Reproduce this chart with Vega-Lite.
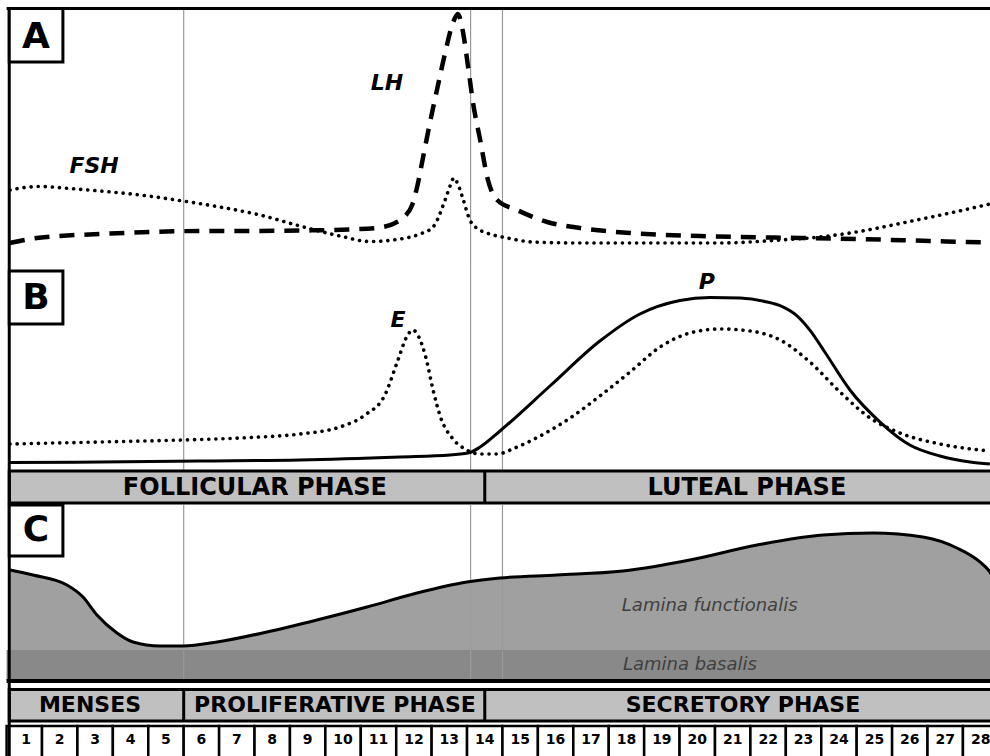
{
  "$schema": "https://vega.github.io/schema/vega-lite/v6.json",
  "padding": 0,
  "spacing": 0,
  "bounds": "flush",
  "background": "white",
  "config": {"view": {"stroke": null}, "text": {"font": "DejaVu Sans"}},
  "datasets": {
    "guides": [{"day": 5}, {"day": 13.1}, {"day": 14}],
    "one": [{"day": 0}],
    "lh": [
      {"day": 0.096, "level": 9.33}, {"day": 0.66, "level": 10.82}, {"day": 1.51, "level": 11.94}, {"day": 2.64, "level": 12.69},
      {"day": 4.05, "level": 13.43}, {"day": 5.46, "level": 13.81}, {"day": 6.87, "level": 13.81}, {"day": 8.28, "level": 13.99},
      {"day": 9.69, "level": 14.37}, {"day": 10.54, "level": 15.11}, {"day": 10.97, "level": 16.79}, {"day": 11.25, "level": 19.4},
      {"day": 11.45, "level": 23.51}, {"day": 11.59, "level": 30.22}, {"day": 11.76, "level": 41.42}, {"day": 11.95, "level": 54.1},
      {"day": 12.15, "level": 66.42}, {"day": 12.38, "level": 80.22}, {"day": 12.6, "level": 91.42}, {"day": 12.74, "level": 94.78},
      {"day": 12.89, "level": 87.69}, {"day": 13.03, "level": 75.0}, {"day": 13.17, "level": 61.57}, {"day": 13.37, "level": 47.76},
      {"day": 13.59, "level": 32.84}, {"day": 13.85, "level": 25.37}, {"day": 14.41, "level": 21.64}, {"day": 15.26, "level": 17.16},
      {"day": 16.19, "level": 14.93}, {"day": 17.6, "level": 13.06}, {"day": 19.58, "level": 11.94}, {"day": 22.4, "level": 11.19},
      {"day": 24.01, "level": 10.82}, {"day": 26.07, "level": 10.07}, {"day": 27.76, "level": 9.51}
    ],
    "fsh": [
      {"day": 0.096, "level": 29.1}, {"day": 0.52, "level": 30.04}, {"day": 0.94, "level": 30.41}, {"day": 1.79, "level": 29.66},
      {"day": 2.64, "level": 28.73}, {"day": 3.77, "level": 27.24}, {"day": 4.98, "level": 25.0}, {"day": 6.02, "level": 22.76},
      {"day": 7.15, "level": 19.78}, {"day": 8.28, "level": 15.67}, {"day": 9.41, "level": 11.94}, {"day": 10.26, "level": 9.89},
      {"day": 11.11, "level": 10.82}, {"day": 11.67, "level": 12.69}, {"day": 12.04, "level": 15.3}, {"day": 12.38, "level": 25.37},
      {"day": 12.52, "level": 30.6}, {"day": 12.63, "level": 33.58}, {"day": 12.74, "level": 31.34}, {"day": 12.86, "level": 26.87},
      {"day": 13.08, "level": 17.91}, {"day": 13.31, "level": 14.55}, {"day": 13.56, "level": 13.06}, {"day": 14.13, "level": 11.19},
      {"day": 14.86, "level": 9.7}, {"day": 16.19, "level": 9.33}, {"day": 18.16, "level": 9.33}, {"day": 20.14, "level": 9.33},
      {"day": 21.84, "level": 10.45}, {"day": 22.96, "level": 11.57}, {"day": 23.81, "level": 13.06}, {"day": 25.7, "level": 17.91},
      {"day": 26.64, "level": 20.52}, {"day": 27.76, "level": 23.88}
    ],
    "estrogen": [
      {"day": 0.096, "level": 11.56}, {"day": 2.64, "level": 12.56}, {"day": 4.98, "level": 13.57}, {"day": 6.87, "level": 14.82},
      {"day": 8.28, "level": 16.58}, {"day": 9.41, "level": 20.1}, {"day": 10.12, "level": 26.13}, {"day": 10.68, "level": 36.18},
      {"day": 11.05, "level": 53.77}, {"day": 11.28, "level": 64.82}, {"day": 11.47, "level": 68.84}, {"day": 11.64, "level": 65.33},
      {"day": 11.84, "level": 54.77}, {"day": 12.04, "level": 38.69}, {"day": 12.26, "level": 24.62}, {"day": 12.58, "level": 14.57},
      {"day": 12.94, "level": 9.05}, {"day": 13.37, "level": 6.53}, {"day": 13.85, "level": 6.53}, {"day": 14.35, "level": 9.55},
      {"day": 15.06, "level": 15.58}, {"day": 15.91, "level": 24.62}, {"day": 16.75, "level": 35.68}, {"day": 17.6, "level": 47.74},
      {"day": 18.45, "level": 60.3}, {"day": 19.29, "level": 67.34}, {"day": 20.14, "level": 69.35}, {"day": 20.99, "level": 68.34},
      {"day": 21.84, "level": 63.82}, {"day": 22.68, "level": 52.76}, {"day": 23.53, "level": 37.69}, {"day": 24.38, "level": 24.62},
      {"day": 25.22, "level": 17.09}, {"day": 26.35, "level": 11.56}, {"day": 27.76, "level": 8.04}
    ],
    "progesterone": [
      {"day": 0.096, "level": 2.26}, {"day": 2.64, "level": 2.51}, {"day": 5.46, "level": 3.02}, {"day": 8.28, "level": 3.52},
      {"day": 11.11, "level": 5.03}, {"day": 12.52, "level": 6.03}, {"day": 13.08, "level": 7.29}, {"day": 13.37, "level": 10.05},
      {"day": 13.93, "level": 18.09}, {"day": 15.34, "level": 40.7}, {"day": 16.75, "level": 63.3}, {"day": 17.88, "level": 76.9},
      {"day": 19.01, "level": 83.67}, {"day": 19.86, "level": 85.18}, {"day": 20.71, "level": 84.92}, {"day": 21.4, "level": 83.2},
      {"day": 21.9, "level": 80.6}, {"day": 22.3, "level": 76.2}, {"day": 22.7, "level": 68.3}, {"day": 23.1, "level": 57.8},
      {"day": 23.81, "level": 38.7}, {"day": 24.66, "level": 22.6}, {"day": 25.5, "level": 11.06}, {"day": 26.35, "level": 5.53},
      {"day": 27.2, "level": 2.51}, {"day": 27.76, "level": 1.51}
    ],
    "endometrium": [
      {"day": 0.096, "thickness": 63.69}, {"day": 0.745, "thickness": 60.89}, {"day": 1.705, "thickness": 55.31}, {"day": 2.157, "thickness": 48.6},
      {"day": 2.552, "thickness": 38.55}, {"day": 3.117, "thickness": 28.49}, {"day": 3.569, "thickness": 23.46}, {"day": 4.331, "thickness": 21.23},
      {"day": 4.98, "thickness": 21.23}, {"day": 5.94, "thickness": 23.46}, {"day": 7.35, "thickness": 29.05}, {"day": 8.76, "thickness": 35.75},
      {"day": 10.175, "thickness": 43.02}, {"day": 11.587, "thickness": 50.84}, {"day": 13.0, "thickness": 56.98}, {"day": 13.93, "thickness": 59.22},
      {"day": 15.54, "thickness": 60.89}, {"day": 17.4, "thickness": 63.13}, {"day": 19.29, "thickness": 69.27}, {"day": 21.19, "thickness": 77.65},
      {"day": 23.05, "thickness": 83.24}, {"day": 24.46, "thickness": 84.36}, {"day": 25.87, "thickness": 82.12}, {"day": 26.83, "thickness": 75.98},
      {"day": 27.48, "thickness": 68.16}, {"day": 27.76, "thickness": 62.57}, {"day": 27.9, "thickness": 57.5}
    ],
    "hormoneLabelsA": [{"label": "LH", "day": 10.74, "level": 69.0}, {"label": "FSH", "day": 2.47, "level": 38.06}],
    "hormoneLabelsB": [{"label": "E", "day": 11.05, "level": 73.87}, {"label": "P", "day": 19.77, "level": 92.96}],
    "panelA": [{"label": "A", "day": 0.83, "level": 86.2}],
    "panelB": [{"label": "B", "day": 0.83, "level": 84.92}],
    "panelC": [{"label": "C", "day": 0.83, "level": 86.03}],
    "ovarianPhases": [{"label": "FOLLICULAR PHASE", "day": 7.01, "level": 0.447}, {"label": "LUTEAL PHASE", "day": 20.9, "level": 0.447}],
    "uterinePhases": [{"label": "MENSES", "day": 2.355, "level": 0.46}, {"label": "PROLIFERATIVE PHASE", "day": 9.27, "level": 0.46}, {"label": "SECRETORY PHASE", "day": 20.79, "level": 0.46}],
    "ovarianSplit": [{"day": 13.5}],
    "uterineSplit": [{"day": 5.0}, {"day": 13.5}],
    "laminae": [{"label": "Lamina functionalis", "day": 17.37, "level": 40.78}, {"label": "Lamina basalis", "day": 17.4, "level": 7.82}],
    "days": [
      {"num": "1", "start": 0, "day": 1, "mid": 0.55}, {"num": "2", "start": 1, "day": 2, "mid": 1.5}, {"num": "3", "start": 2, "day": 3, "mid": 2.5},
      {"num": "4", "start": 3, "day": 4, "mid": 3.5}, {"num": "5", "start": 4, "day": 5, "mid": 4.5}, {"num": "6", "start": 5, "day": 6, "mid": 5.5},
      {"num": "7", "start": 6, "day": 7, "mid": 6.5}, {"num": "8", "start": 7, "day": 8, "mid": 7.5}, {"num": "9", "start": 8, "day": 9, "mid": 8.5},
      {"num": "10", "start": 9, "day": 10, "mid": 9.5}, {"num": "11", "start": 10, "day": 11, "mid": 10.5}, {"num": "12", "start": 11, "day": 12, "mid": 11.5},
      {"num": "13", "start": 12, "day": 13, "mid": 12.5}, {"num": "14", "start": 13, "day": 14, "mid": 13.5}, {"num": "15", "start": 14, "day": 15, "mid": 14.5},
      {"num": "16", "start": 15, "day": 16, "mid": 15.5}, {"num": "17", "start": 16, "day": 17, "mid": 16.5}, {"num": "18", "start": 17, "day": 18, "mid": 17.5},
      {"num": "19", "start": 18, "day": 19, "mid": 18.5}, {"num": "20", "start": 19, "day": 20, "mid": 19.5}, {"num": "21", "start": 20, "day": 21, "mid": 20.5},
      {"num": "22", "start": 21, "day": 22, "mid": 21.5}, {"num": "23", "start": 22, "day": 23, "mid": 22.5}, {"num": "24", "start": 23, "day": 24, "mid": 23.5},
      {"num": "25", "start": 24, "day": 25, "mid": 24.5}, {"num": "26", "start": 25, "day": 26, "mid": 25.5}, {"num": "27", "start": 26, "day": 27, "mid": 26.5},
      {"num": "28", "start": 27, "day": 28, "mid": 27.5}
    ]
  },
  "vconcat": [
    {
      "width": 990, "height": 268,
      "layer": [
        {"data": {"name": "guides"}, "mark": {"type": "rule", "color": "#9a9a9a", "strokeWidth": 1.2},
         "encoding": {"x": {"field": "day", "type": "quantitative", "scale": {"domain": [-0.186, 27.764], "nice": false, "zero": false}, "axis": null},
                      "y": {"datum": 0, "type": "quantitative", "scale": {"domain": [0, 100], "nice": false, "zero": false}, "axis": null}, "y2": {"datum": 96.8}}},
        {"data": {"name": "fsh"}, "mark": {"type": "line", "color": "black", "strokeWidth": 3.6, "strokeDash": [0.1, 7], "strokeCap": "round", "interpolate": "monotone", "clip": true},
         "encoding": {"x": {"field": "day", "type": "quantitative", "axis": null}, "y": {"field": "level", "type": "quantitative", "axis": null}}},
        {"data": {"name": "lh"}, "mark": {"type": "line", "color": "black", "strokeWidth": 4.5, "strokeDash": [15, 10], "interpolate": "monotone", "clip": true},
         "encoding": {"x": {"field": "day", "type": "quantitative", "axis": null}, "y": {"field": "level", "type": "quantitative", "axis": null}}},
        {"data": {"name": "one"}, "mark": {"type": "rule", "color": "black", "strokeWidth": 3},
         "encoding": {"x": {"datum": 0.0, "type": "quantitative"}, "x2": {"datum": 27.764}, "y": {"datum": 96.8, "type": "quantitative"}}},
        {"data": {"name": "one"}, "mark": {"type": "rule", "color": "black", "strokeWidth": 3},
         "encoding": {"x": {"datum": 0.075, "type": "quantitative"}, "y": {"datum": 0, "type": "quantitative"}, "y2": {"datum": 97.4}}},
        {"data": {"name": "one"}, "mark": {"type": "rect", "fill": "white", "stroke": "black", "strokeWidth": 3},
         "encoding": {"x": {"datum": 0.075, "type": "quantitative"}, "x2": {"datum": 1.59}, "y": {"datum": 76.9, "type": "quantitative"}, "y2": {"datum": 96.8}}},
        {"data": {"name": "panelA"}, "mark": {"type": "text", "fontSize": 36, "fontWeight": "bold", "align": "center", "baseline": "middle", "color": "black"},
         "encoding": {"x": {"field": "day", "type": "quantitative"}, "y": {"field": "level", "type": "quantitative"}, "text": {"field": "label"}}},
        {"data": {"name": "hormoneLabelsA"}, "mark": {"type": "text", "fontSize": 22, "fontWeight": "bold", "fontStyle": "italic", "align": "center", "baseline": "middle", "color": "black"},
         "encoding": {"x": {"field": "day", "type": "quantitative"}, "y": {"field": "level", "type": "quantitative"}, "text": {"field": "label"}}}
      ]
    },
    {
      "width": 990, "height": 199,
      "layer": [
        {"data": {"name": "guides"}, "mark": {"type": "rule", "color": "#9a9a9a", "strokeWidth": 1.2},
         "encoding": {"x": {"field": "day", "type": "quantitative", "scale": {"domain": [-0.186, 27.764], "nice": false, "zero": false}, "axis": null},
                      "y": {"datum": 0, "type": "quantitative", "scale": {"domain": [0, 100], "nice": false, "zero": false}, "axis": null}, "y2": {"datum": 100}}},
        {"data": {"name": "estrogen"}, "mark": {"type": "line", "color": "black", "strokeWidth": 3.6, "strokeDash": [0.1, 7], "strokeCap": "round", "interpolate": "monotone", "clip": true},
         "encoding": {"x": {"field": "day", "type": "quantitative", "axis": null}, "y": {"field": "level", "type": "quantitative", "axis": null}}},
        {"data": {"name": "progesterone"}, "mark": {"type": "line", "color": "black", "strokeWidth": 3, "interpolate": "monotone", "clip": true},
         "encoding": {"x": {"field": "day", "type": "quantitative", "axis": null}, "y": {"field": "level", "type": "quantitative", "axis": null}}},
        {"data": {"name": "one"}, "mark": {"type": "rule", "color": "black", "strokeWidth": 3},
         "encoding": {"x": {"datum": 0.075, "type": "quantitative"}, "y": {"datum": 0, "type": "quantitative"}, "y2": {"datum": 100}}},
        {"data": {"name": "one"}, "mark": {"type": "rect", "fill": "white", "stroke": "black", "strokeWidth": 3},
         "encoding": {"x": {"datum": 0.075, "type": "quantitative"}, "x2": {"datum": 1.59}, "y": {"datum": 71.86, "type": "quantitative"}, "y2": {"datum": 98.49}}},
        {"data": {"name": "panelB"}, "mark": {"type": "text", "fontSize": 36, "fontWeight": "bold", "align": "center", "baseline": "middle", "color": "black"},
         "encoding": {"x": {"field": "day", "type": "quantitative"}, "y": {"field": "level", "type": "quantitative"}, "text": {"field": "label"}}},
        {"data": {"name": "hormoneLabelsB"}, "mark": {"type": "text", "fontSize": 22, "fontWeight": "bold", "fontStyle": "italic", "align": "center", "baseline": "middle", "color": "black"},
         "encoding": {"x": {"field": "day", "type": "quantitative"}, "y": {"field": "level", "type": "quantitative"}, "text": {"field": "label"}}}
      ]
    },
    {
      "width": 990, "height": 38,
      "layer": [
        {"data": {"name": "guides"}, "mark": {"type": "rule", "color": "#9a9a9a", "strokeWidth": 1.2},
         "encoding": {"x": {"field": "day", "type": "quantitative", "scale": {"domain": [-0.186, 27.764], "nice": false, "zero": false}, "axis": null},
                      "y": {"datum": 0.9, "type": "quantitative", "scale": {"domain": [0, 1], "nice": false, "zero": false}, "axis": null}, "y2": {"datum": 1}}},
        {"data": {"name": "one"}, "mark": {"type": "rect", "fill": "#c0c0c0", "stroke": "black", "strokeWidth": 3, "clip": true},
         "encoding": {"x": {"datum": 0.075, "type": "quantitative"}, "x2": {"datum": 28.5}, "y": {"datum": 0.053, "type": "quantitative"}, "y2": {"datum": 0.895}}},
        {"data": {"name": "ovarianSplit"}, "mark": {"type": "rule", "color": "black", "strokeWidth": 3},
         "encoding": {"x": {"field": "day", "type": "quantitative"}, "y": {"datum": 0.053, "type": "quantitative"}, "y2": {"datum": 0.895}}},
        {"data": {"name": "one"}, "mark": {"type": "rule", "color": "black", "strokeWidth": 3},
         "encoding": {"x": {"datum": 0.075, "type": "quantitative"}, "y": {"datum": 0, "type": "quantitative"}, "y2": {"datum": 1}}},
        {"data": {"name": "ovarianPhases"}, "mark": {"type": "text", "fontSize": 24, "fontWeight": "bold", "align": "center", "baseline": "middle", "color": "black"},
         "encoding": {"x": {"field": "day", "type": "quantitative"}, "y": {"field": "level", "type": "quantitative"}, "text": {"field": "label"}}}
      ]
    },
    {
      "width": 990, "height": 179,
      "layer": [
        {"data": {"name": "endometrium"}, "mark": {"type": "area", "fill": "#a0a0a0", "fillOpacity": 1, "interpolate": "monotone", "clip": true},
         "encoding": {"x": {"field": "day", "type": "quantitative", "scale": {"domain": [-0.186, 27.764], "nice": false, "zero": false}, "axis": null},
                      "y": {"field": "thickness", "type": "quantitative", "scale": {"domain": [0, 100], "nice": false, "zero": false}, "axis": null}, "y2": {"datum": 1.68}}},
        {"data": {"name": "one"}, "mark": {"type": "rect", "fill": "#898989", "clip": true},
         "encoding": {"x": {"datum": 0, "type": "quantitative"}, "x2": {"datum": 27.764}, "y": {"datum": 1.68, "type": "quantitative"}, "y2": {"datum": 18.99}}},
        {"data": {"name": "guides"}, "mark": {"type": "rule", "color": "#9a9a9a", "strokeWidth": 1.2},
         "encoding": {"x": {"field": "day", "type": "quantitative"}, "y": {"datum": 1.68, "type": "quantitative"}, "y2": {"datum": 100}}},
        {"data": {"name": "laminae"}, "mark": {"type": "text", "fontSize": 18, "fontStyle": "italic", "align": "left", "baseline": "alphabetic", "color": "#3f3f3f"},
         "encoding": {"x": {"field": "day", "type": "quantitative"}, "y": {"field": "level", "type": "quantitative"}, "text": {"field": "label"}}},
        {"data": {"name": "one"}, "mark": {"type": "rule", "color": "black", "strokeWidth": 4},
         "encoding": {"x": {"datum": 0.0, "type": "quantitative"}, "x2": {"datum": 27.764}, "y": {"datum": 1.68, "type": "quantitative"}}},
        {"data": {"name": "one"}, "mark": {"type": "rule", "color": "black", "strokeWidth": 3},
         "encoding": {"x": {"datum": 0.075, "type": "quantitative"}, "y": {"datum": 0, "type": "quantitative"}, "y2": {"datum": 100}}},
        {"data": {"name": "one"}, "mark": {"type": "rect", "fill": "white", "stroke": "black", "strokeWidth": 3},
         "encoding": {"x": {"datum": 0.075, "type": "quantitative"}, "x2": {"datum": 1.59}, "y": {"datum": 71.51, "type": "quantitative"}, "y2": {"datum": 100}}},
        {"data": {"name": "panelC"}, "mark": {"type": "text", "fontSize": 36, "fontWeight": "bold", "align": "center", "baseline": "middle", "color": "black"},
         "encoding": {"x": {"field": "day", "type": "quantitative"}, "y": {"field": "level", "type": "quantitative"}, "text": {"field": "label"}}},
        {"data": {"name": "endometrium"}, "mark": {"type": "line", "color": "black", "strokeWidth": 3, "interpolate": "monotone", "clip": true},
         "encoding": {"x": {"field": "day", "type": "quantitative"}, "y": {"field": "thickness", "type": "quantitative"}}}
      ]
    },
    {
      "width": 990, "height": 39,
      "layer": [
        {"data": {"name": "one"}, "mark": {"type": "rect", "fill": "#c0c0c0", "stroke": "black", "strokeWidth": 3, "clip": true},
         "encoding": {"x": {"datum": 0.075, "type": "quantitative", "scale": {"domain": [-0.186, 27.764], "nice": false, "zero": false}, "axis": null}, "x2": {"datum": 28.5},
                      "y": {"datum": 0.051, "type": "quantitative", "scale": {"domain": [0, 1], "nice": false, "zero": false}, "axis": null}, "y2": {"datum": 0.859}}},
        {"data": {"name": "uterineSplit"}, "mark": {"type": "rule", "color": "black", "strokeWidth": 3},
         "encoding": {"x": {"field": "day", "type": "quantitative"}, "y": {"datum": 0.051, "type": "quantitative"}, "y2": {"datum": 0.859}}},
        {"data": {"name": "one"}, "mark": {"type": "rule", "color": "black", "strokeWidth": 3},
         "encoding": {"x": {"datum": 0.075, "type": "quantitative"}, "y": {"datum": 0, "type": "quantitative"}, "y2": {"datum": 1}}},
        {"data": {"name": "uterinePhases"}, "mark": {"type": "text", "fontSize": 22, "fontWeight": "bold", "align": "center", "baseline": "middle", "color": "black"},
         "encoding": {"x": {"field": "day", "type": "quantitative"}, "y": {"field": "level", "type": "quantitative"}, "text": {"field": "label"}}}
      ]
    },
    {
      "width": 990, "height": 33,
      "layer": [
        {"data": {"name": "days"}, "mark": {"type": "rect", "fill": "white", "stroke": "black", "strokeWidth": 2.5, "clip": true},
         "encoding": {"x": {"field": "start", "type": "quantitative", "scale": {"domain": [-0.186, 27.764], "nice": false, "zero": false}, "axis": null}, "x2": {"field": "day"},
                      "y": {"datum": -0.5, "type": "quantitative", "scale": {"domain": [0, 1], "nice": false, "zero": false}, "axis": null}, "y2": {"datum": 0.909}}},
        {"data": {"name": "one"}, "mark": {"type": "rule", "color": "black", "strokeWidth": 3},
         "encoding": {"x": {"datum": 0.075, "type": "quantitative"}, "y": {"datum": 0, "type": "quantitative"}, "y2": {"datum": 1}}},
        {"data": {"name": "days"}, "mark": {"type": "text", "fontSize": 14, "fontWeight": "bold", "align": "center", "baseline": "middle", "color": "black"},
         "encoding": {"x": {"field": "mid", "type": "quantitative"}, "y": {"datum": 0.485, "type": "quantitative"}, "text": {"field": "num"}}}
      ]
    }
  ]
}
